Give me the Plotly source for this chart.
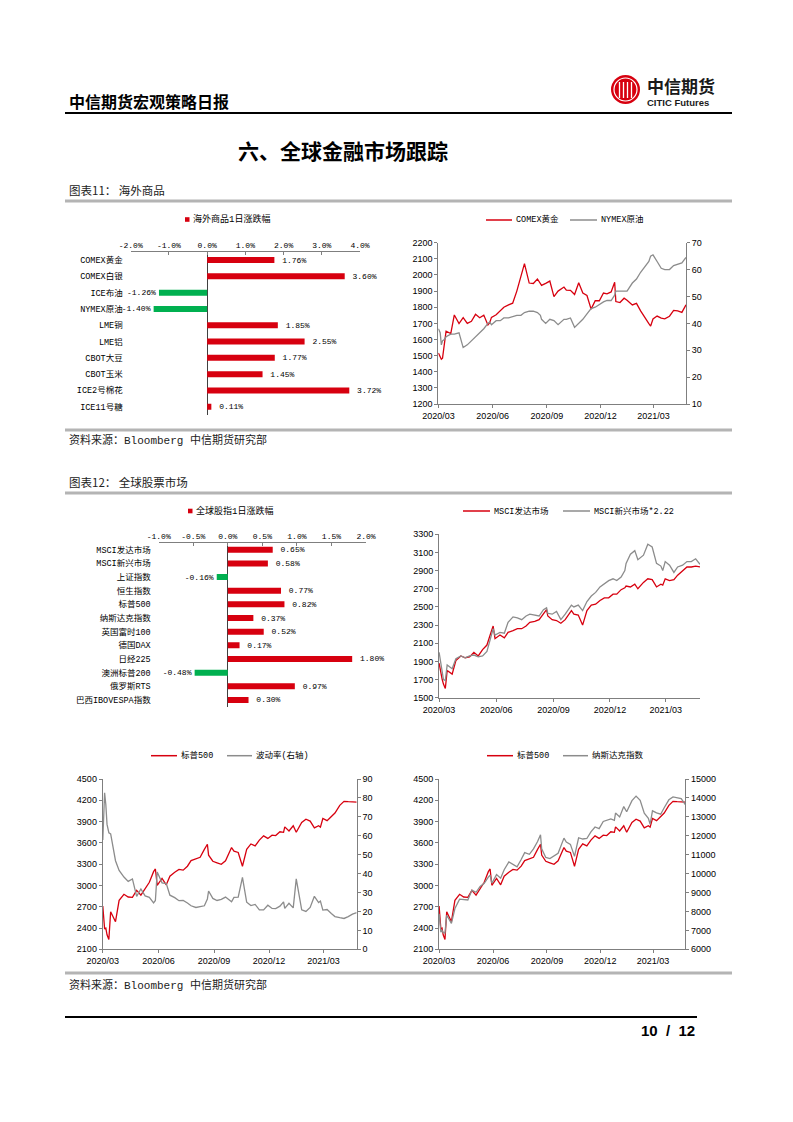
import plotly.graph_objects as go

W, H = 793, 1122
def X(p): return p / W
def Y(p): return 1 - p / H

MONO = "Liberation Mono, Noto Sans CJK SC, monospace"
SANS = "Liberation Sans, Arial, sans-serif"
CJK = "Noto Sans CJK SC, sans-serif"
RED = "#D7000F"
GRAY = "#8C8C8C"
GREEN = "#00B050"
AX = "#7F7F7F"

# ---------------- data ----------------
comm_names = ["COMEX黄金", "COMEX白银", "ICE布油", "NYMEX原油", "LME铜", "LME铝",
              "CBOT大豆", "CBOT玉米", "ICE2号棉花", "ICE11号糖"]
comm_chg = [1.76, 3.60, -1.26, -1.40, 1.85, 2.55, 1.77, 1.45, 3.72, 0.11]

eq_names = ["MSCI发达市场", "MSCI新兴市场", "上证指数", "恒生指数", "标普500", "纳斯达克指数",
            "英国富时100", "德国DAX", "日经225", "澳洲标普200", "俄罗斯RTS", "巴西IBOVESPA指数"]
eq_chg = [0.65, 0.58, -0.16, 0.77, 0.82, 0.37, 0.52, 0.17, 1.80, -0.48, 0.97, 0.30]

dates = [
    "2020-03-13", "2020-03-16", "2020-03-18", "2020-03-20", "2020-03-23", "2020-03-26",
    "2020-04-03", "2020-04-09", "2020-04-17", "2020-04-24", "2020-05-01", "2020-05-08", "2020-05-15", "2020-05-22", "2020-05-29",
    "2020-06-05", "2020-06-08", "2020-06-11", "2020-06-19", "2020-06-26",
    "2020-07-02", "2020-07-10", "2020-07-17", "2020-07-24", "2020-07-31",
    "2020-08-06", "2020-08-14", "2020-08-21", "2020-08-28",
    "2020-09-02", "2020-09-04", "2020-09-11", "2020-09-18", "2020-09-25",
    "2020-10-02", "2020-10-12", "2020-10-16", "2020-10-23", "2020-10-30",
    "2020-11-06", "2020-11-13", "2020-11-20", "2020-11-27",
    "2020-12-04", "2020-12-11", "2020-12-18", "2020-12-24", "2020-12-31",
    "2021-01-06", "2021-01-08", "2021-01-15", "2021-01-22", "2021-01-27", "2021-02-05", "2021-02-12", "2021-02-19", "2021-02-26",
    "2021-03-05", "2021-03-08", "2021-03-12", "2021-03-19", "2021-03-26",
    "2021-04-01", "2021-04-09", "2021-04-16", "2021-04-23", "2021-04-30", "2021-05-07"]

gold = [1516, 1486, 1478, 1484, 1567, 1651,
        1637, 1752, 1699, 1735, 1700, 1713, 1756, 1735, 1751,
        1690, 1704, 1737, 1753, 1780,
        1800, 1815, 1825, 1900, 1986,
        2070, 1950, 1947, 1975,
        1945, 1935, 1948, 1962, 1866,
        1900, 1925, 1906, 1905, 1879,
        1952, 1888, 1873, 1788,
        1840, 1840, 1888, 1883, 1895,
        1955, 1835, 1829, 1856, 1843, 1814, 1824, 1777, 1734,
        1698, 1683, 1727, 1745, 1732,
        1728, 1744, 1780, 1777, 1768, 1815]

wti = [38, 36.5, 32, 33.5, 34, 35,
       36, 36, 36.5, 31, 32, 33.5, 35, 36.5, 38,
       40, 40.5, 39.5, 41, 41,
       42, 42, 42.5, 43, 43,
       44, 44.5, 44.5, 44,
       43, 41.5, 40, 41.5, 41,
       39.5, 41.5, 41.5, 42, 38.5,
       40, 41.5, 43.5, 45.5,
       46, 47, 48, 48.5, 48.5,
       50.5, 52, 52, 52, 52, 55, 56.5, 59, 61,
       63, 65, 65.5, 63, 60.5,
       60, 60, 61.5, 62, 62.5, 64.5]

msci_dm = [1880, 1740, 1700, 1650, 1602, 1800,
           1760, 1910, 1960, 1940, 1950, 2000, 1960, 2030, 2080,
           2230, 2290, 2150, 2190, 2160,
           2220, 2240, 2260, 2260, 2290,
           2330, 2340, 2360, 2430,
           2470, 2400, 2360, 2350, 2320,
           2360, 2460, 2420, 2410, 2300,
           2460, 2520, 2530, 2570,
           2600, 2600, 2640, 2640, 2690,
           2710, 2730, 2720, 2750, 2700, 2770, 2810, 2800, 2720,
           2750, 2740, 2810, 2790, 2800,
           2850, 2900, 2940, 2940, 2950, 2940]

msci_em_x222 = [2000, 1880, 1760, 1700, 1690, 1860,
                1820, 1930, 1960, 1940, 1960, 1970, 1950, 1960, 2010,
                2180, 2260, 2190, 2220, 2210,
                2330, 2390, 2380, 2360, 2400,
                2420, 2410, 2400, 2470,
                2490, 2430, 2420, 2450, 2360,
                2420, 2520, 2500, 2520, 2460,
                2560, 2620, 2660, 2720,
                2760, 2790, 2810, 2790, 2830,
                2900, 2980, 3080, 3120, 3020, 3070, 3190, 3160, 2980,
                2950, 2900, 3000, 2960, 2880,
                2940, 2960, 3000, 3000, 3030, 2970]

spx = [2711, 2386, 2398, 2305, 2237, 2630,
       2489, 2790, 2875, 2837, 2831, 2930, 2864, 2955, 3044,
       3194, 3232, 3002, 3098, 3009,
       3130, 3185, 3225, 3216, 3271,
       3350, 3373, 3397, 3508,
       3580, 3427, 3341, 3319, 3298,
       3348, 3534, 3484, 3465, 3270,
       3510, 3585, 3558, 3638,
       3699, 3663, 3709, 3703, 3756,
       3748, 3825, 3768, 3841, 3750, 3887, 3934, 3907, 3811,
       3842, 3821, 3943, 3913, 3975,
       4020, 4129, 4185, 4180, 4181, 4175]

vix = [57.8, 82.7, 76.5, 66.0, 61.6, 61.0,
       46.8, 41.7, 38.2, 35.9, 37.2, 28.0, 31.9, 28.2, 27.5,
       24.5, 25.8, 40.8, 35.1, 34.7,
       28.6, 27.3, 25.7, 25.8, 24.5,
       23.0, 22.1, 22.5, 23.0,
       26.6, 30.8, 26.9, 25.8, 26.4,
       27.6, 25.1, 27.4, 27.6, 38.0,
       24.9, 23.1, 23.7, 20.8,
       20.8, 23.3, 21.6, 21.5, 22.8,
       25.1, 21.6, 24.3, 21.9, 37.2, 20.9, 20.0, 22.1, 28.0,
       24.7, 25.5, 20.7, 21.0, 18.9,
       17.3, 16.7, 16.3, 17.3, 18.6, 19.4]

nasdaq = [7875, 6905, 6990, 6880, 6861, 7798,
          7373, 8153, 8650, 8634, 8605, 9121, 9015, 9325, 9490,
          9815, 9924, 9493, 9946, 9757,
          10208, 10617, 10503, 10363, 10745,
          11108, 11019, 11312, 11696,
          12056, 11313, 10854, 10793, 10914,
          11075, 11876, 11672, 11548, 10911,
          11895, 11829, 11855, 12206,
          12464, 12378, 12755, 12805, 12888,
          12819, 13202, 12998, 13543, 13271, 13856, 14095, 13874, 13192,
          12920, 12609, 13320, 13215, 13138,
          13480, 13900, 14052, 14016, 13962, 13650]

for s in (gold, wti, msci_dm, msci_em_x222, spx, vix, nasdaq):
    assert len(s) == len(dates), len(s)

date_ticks = ["2020-03-13", "2020-06-13", "2020-09-13", "2020-12-13", "2021-03-13"]
date_ticktext = ["2020/03", "2020/06", "2020/09", "2020/12", "2021/03"]
x_range = ["2020-03-12 20:00", "2021-05-07"]

# ---------------- figure ----------------
fig = go.Figure()

def lbl(v):
    return ("\u00a0%.2f%%" % v) if v >= 0 else ("%.2f%%" % v)

# Chart A: commodities bar
fig.add_trace(go.Bar(x=comm_chg, y=comm_names, orientation="h",
                     marker=dict(color=[RED if v >= 0 else GREEN for v in comm_chg], line=dict(width=0)),
                     width=0.37, text=[lbl(v) for v in comm_chg], textposition="outside",
                     textfont=dict(family=MONO, size=8, color="black"),
                     cliponaxis=False, constraintext="none", xaxis="x", yaxis="y"))

# Chart B: gold & crude
fig.add_trace(go.Scatter(x=dates, y=gold, mode="lines", line=dict(color=RED, width=1.3),
                         xaxis="x2", yaxis="y2"))
fig.add_trace(go.Scatter(x=dates, y=wti, mode="lines", line=dict(color=GRAY, width=1.3),
                         xaxis="x2", yaxis="y3"))

# Chart C: equities bar
fig.add_trace(go.Bar(x=eq_chg, y=eq_names, orientation="h",
                     marker=dict(color=[RED if v >= 0 else GREEN for v in eq_chg], line=dict(width=0)),
                     width=0.44, text=[lbl(v) for v in eq_chg], textposition="outside",
                     textfont=dict(family=MONO, size=8, color="black"),
                     cliponaxis=False, constraintext="none", xaxis="x3", yaxis="y4"))

# Chart D: MSCI
fig.add_trace(go.Scatter(x=dates, y=msci_dm, mode="lines", line=dict(color=RED, width=1.3),
                         xaxis="x4", yaxis="y5"))
fig.add_trace(go.Scatter(x=dates, y=msci_em_x222, mode="lines", line=dict(color=GRAY, width=1.3),
                         xaxis="x4", yaxis="y5"))

# Chart E: S&P500 & VIX
fig.add_trace(go.Scatter(x=dates, y=spx, mode="lines", line=dict(color=RED, width=1.3),
                         xaxis="x5", yaxis="y6"))
fig.add_trace(go.Scatter(x=dates, y=vix, mode="lines", line=dict(color=GRAY, width=1.3),
                         xaxis="x5", yaxis="y7"))

# Chart F: S&P500 & Nasdaq
fig.add_trace(go.Scatter(x=dates, y=nasdaq, mode="lines", line=dict(color=GRAY, width=1.3),
                         xaxis="x6", yaxis="y9"))
fig.add_trace(go.Scatter(x=dates, y=spx, mode="lines", line=dict(color=RED, width=1.3),
                         xaxis="x6", yaxis="y8"))

tick_font = dict(family=SANS, size=9, color="black")
mono_font = dict(family=MONO, size=8, color="black")

def bar_xaxis(domain, rng, vals, anchor):
    return dict(domain=domain, range=rng, side="top", anchor=anchor, automargin=False,
                tickvals=vals, ticktext=["%.1f%%" % v for v in vals],
                ticks="inside", ticklen=3, tickcolor=AX, showline=True, linecolor=AX, linewidth=1,
                zeroline=True, zerolinecolor="#404040", zerolinewidth=1, showgrid=False,
                tickfont=mono_font, fixedrange=True)

def bar_yaxis(domain, anchor):
    return dict(domain=domain, anchor=anchor, type="category", autorange="reversed", automargin=False,
                showgrid=False, showline=False, ticks="", zeroline=False, ticklabelstandoff=7,
                tickfont=dict(family=MONO, size=8.5, color="black"))

def date_axis(domain, anchor):
    return dict(domain=domain, anchor=anchor, type="date", range=x_range, automargin=False,
                tickvals=date_ticks, ticktext=date_ticktext, ticks="outside", ticklen=3,
                tickcolor=AX, showline=True, linecolor=AX, linewidth=1, showgrid=False,
                zeroline=False, tickfont=tick_font)

def val_axis(domain, anchor, rng, dtick, side="left", overlay=None):
    d = dict(anchor=anchor, range=rng, dtick=dtick, tick0=rng[0], side=side, automargin=False,
             ticks="outside", ticklen=3, tickcolor=AX, showline=True, linecolor=AX, linewidth=1,
             showgrid=False, zeroline=False, tickfont=tick_font, tickformat="d")
    if overlay:
        d["overlaying"] = overlay
    else:
        d["domain"] = domain
    return d

fig.update_layout(
    template="none",
    width=W, height=H, margin=dict(l=0, r=0, t=0, b=0, pad=0, autoexpand=False),
    paper_bgcolor="white", plot_bgcolor="white", showlegend=False,
    xaxis=bar_xaxis([X(130.7), X(360)], [-2, 4], [-2, -1, 0, 1, 2, 3, 4], "y"),
    yaxis=bar_yaxis([Y(414.9), Y(251.9)], "x"),
    xaxis2=date_axis([X(438.3), X(686)], "y2"),
    yaxis2=val_axis([Y(404), Y(242.7)], "x2", [1200, 2200], 100),
    yaxis3=val_axis(None, "x2", [10, 70], 10, side="right", overlay="y2"),
    xaxis3=bar_xaxis([X(158.7), X(366)], [-1, 2], [-1, -0.5, 0, 0.5, 1, 1.5, 2], "y4"),
    yaxis4=bar_yaxis([Y(706.8), Y(542.9)], "x3"),
    xaxis4=date_axis([X(439), X(700)], "y5"),
    yaxis5=val_axis([Y(697.7), Y(534.3)], "x4", [1500, 3300], 200),
    xaxis5=date_axis([X(102.7), X(356.7)], "y6"),
    yaxis6=val_axis([Y(949.3), Y(779)], "x5", [2100, 4500], 300),
    yaxis7=val_axis(None, "x5", [0, 90], 10, side="right", overlay="y6"),
    xaxis6=date_axis([X(439), X(685.3)], "y8"),
    yaxis8=val_axis([Y(949.3), Y(779)], "x6", [2100, 4500], 300),
    yaxis9=val_axis(None, "x6", [6000, 15000], 1000, side="right", overlay="y8"),
)

shapes = []
annos = []

def hline(y, x0, x1, color, w):
    shapes.append(dict(type="line", xref="paper", yref="paper", x0=X(x0), x1=X(x1),
                       y0=Y(y), y1=Y(y), line=dict(color=color, width=w)))

def text(x, y, s, size, family=CJK, color="black", xanchor="left"):
    annos.append(dict(xref="paper", yref="paper", x=X(x), y=Y(y), text=s, showarrow=False,
                      xanchor=xanchor, yanchor="middle", font=dict(family=family, size=size, color=color)))

# page frame
hline(113, 65, 732, "black", 2)
for yy in (201, 430, 493, 973):
    hline(yy, 65, 732, "#B4B4B4", 3)
hline(1017, 65, 697, "black", 2)

text(67, 101, "<b>中信期货宏观策略日报</b>", 16)
text(343, 150, "<b>六、全球金融市场跟踪</b>", 21, xanchor="center")
text(67, 190, "图表11： 海外商品", 11.5, color="#222")
text(67, 440, "资料来源：Bloomberg 中信期货研究部", 11, family=MONO, color="#222")
text(67, 482, "图表12： 全球股票市场", 11.5, color="#222")
text(67, 985, "资料来源：Bloomberg 中信期货研究部", 11, family=MONO, color="#222")
text(697, 1030, "<b>10 \u00a0/\u00a0 12</b>", 15, family=SANS, xanchor="right")

# logo
shapes.append(dict(type="circle", xref="paper", yref="paper", x0=X(611), x1=X(640), y0=Y(104), y1=Y(75),
                   fillcolor="#D7000F", line=dict(color="#D7000F", width=0)))
shapes.append(dict(type="circle", xref="paper", yref="paper", x0=X(614), x1=X(637), y0=Y(101), y1=Y(78),
                   fillcolor="rgba(0,0,0,0)", line=dict(color="white", width=1.2)))
for xx in (619.5, 623.5, 627.5, 631.5):
    shapes.append(dict(type="line", xref="paper", yref="paper", x0=X(xx), x1=X(xx), y0=Y(98), y1=Y(82),
                       line=dict(color="white", width=1.3)))
text(645, 85.5, "<b>中信期货</b>", 17, color="#1a1a1a")
text(645, 102.5, "<b>CITIC Futures</b>", 9.5, family=SANS, color="#1a1a1a")

# legends
def leg_line(x0, x1, y, color):
    shapes.append(dict(type="line", xref="paper", yref="paper", x0=X(x0), x1=X(x1), y0=Y(y), y1=Y(y),
                       line=dict(color=color, width=1.5)))

def leg_box(x0, y, color):
    shapes.append(dict(type="rect", xref="paper", yref="paper", x0=X(x0), x1=X(x0 + 4.5),
                       y0=Y(y + 2.3), y1=Y(y - 2.3), fillcolor=color, line=dict(width=0)))

leg_box(185, 219.5, RED)
text(190.5, 219.5, "海外商品1日涨跌幅", 9, family=MONO)

leg_line(486, 512, 220, RED)
text(514, 220, "COMEX黄金", 8.5, family=MONO)
leg_line(570, 597, 220, GRAY)
text(599, 220, "NYMEX原油", 8.5, family=MONO)

leg_box(188, 511, RED)
text(193.5, 511, "全球股指1日涨跌幅", 9, family=MONO)

leg_line(463, 490, 511, RED)
text(492, 511, "MSCI发达市场", 8.5, family=MONO)
leg_line(563, 590, 511, GRAY)
text(592, 511, "MSCI新兴市场*2.22", 8.5, family=MONO)

leg_line(151, 177, 755.7, RED)
text(179, 755.7, "标普500", 8.5, family=MONO)
leg_line(227, 252, 755.7, GRAY)
text(254, 755.7, "波动率(右轴)", 8.5, family=MONO)

leg_line(487, 513, 755.7, RED)
text(515, 755.7, "标普500", 8.5, family=MONO)
leg_line(563, 588, 755.7, GRAY)
text(590, 755.7, "纳斯达克指数", 8.5, family=MONO)

fig.update_layout(shapes=shapes, annotations=annos)

fig.write_html("out.html", config={"displayModeBar": False},
               post_script="document.body.style.margin='0px';")
